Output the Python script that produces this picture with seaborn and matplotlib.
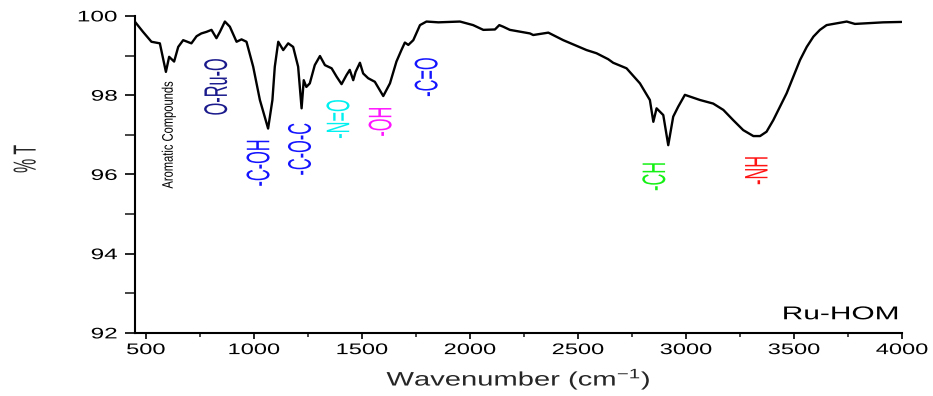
import numpy as np
import pandas as pd
import matplotlib
matplotlib.use("Agg")
import matplotlib.pyplot as plt
from matplotlib import patheffects
from matplotlib.transforms import Affine2D
from matplotlib.ticker import MultipleLocator
import seaborn as sns

# FTIR spectrum of Ru-HOM (wavenumber in cm^-1, transmittance in %)
wavenumber = [449, 487, 526, 565, 593, 608, 631, 650, 673, 711, 735, 757, 781, 804,
              827, 843, 866, 889, 920, 943, 966, 997, 1028, 1066, 1086, 1097, 1113,
              1136, 1159, 1182, 1205, 1221, 1231, 1243, 1259, 1282, 1306, 1329, 1360,
              1383, 1406, 1429, 1444, 1460, 1471, 1491, 1506, 1529, 1560, 1599, 1630,
              1660, 1683, 1699, 1715, 1738, 1769, 1799, 1854, 1954, 2015, 2062, 2116,
              2136, 2154, 2185, 2278, 2293, 2363, 2432, 2540, 2586, 2640, 2663, 2725,
              2787, 2833, 2849, 2864, 2895, 2918, 2941, 2964, 2995, 3065, 3126, 3173,
              3219, 3265, 3312, 3343, 3373, 3404, 3466, 3497, 3528, 3559, 3590, 3620,
              3651, 3744, 3782, 3913, 3998]
transmittance = [99.86, 99.60, 99.35, 99.31, 98.59, 98.97, 98.85, 99.22, 99.39, 99.31,
                 99.49, 99.56, 99.60, 99.65, 99.44, 99.60, 99.86, 99.73, 99.35, 99.41,
                 99.35, 98.72, 97.88, 97.16, 97.88, 98.72, 99.35, 99.14, 99.31, 99.22,
                 98.72, 97.67, 98.38, 98.21, 98.30, 98.76, 98.99, 98.76, 98.68, 98.47,
                 98.28, 98.51, 98.64, 98.38, 98.59, 98.82, 98.55, 98.43, 98.34, 97.98,
                 98.30, 98.85, 99.14, 99.33, 99.27, 99.39, 99.77, 99.86, 99.84, 99.86,
                 99.77, 99.65, 99.66, 99.77, 99.73, 99.65, 99.56, 99.52, 99.58, 99.39,
                 99.14, 99.06, 98.91, 98.82, 98.68, 98.30, 97.88, 97.33, 97.67, 97.50,
                 96.74, 97.46, 97.71, 98.01, 97.88, 97.79, 97.63, 97.37, 97.12, 96.97,
                 96.97, 97.08, 97.37, 98.05, 98.47, 98.89, 99.22, 99.48, 99.65, 99.77,
                 99.86, 99.80, 99.84, 99.85]

# band assignments
band_labels = ["Aromatic Compounds", "O-Ru-O", "-C-OH", "-C-O-C", "-N=O", "-OH",
               "-C=O", "-CH", "-NH"]
band_colors = ["black", "#1a1a8c", "#1414ff", "#1414ff", "#00f0f0", "#ff14ff",
               "#1414ff", "#14f014", "#ff1414"]

sample_name = "Ru-HOM"
x_ticks = [500, 1000, 1500, 2000, 2500, 3000, 3500, 4000]
y_ticks = [92, 94, 96, 98, 100]


class Squash(patheffects.AbstractPathEffect):
    """Compress glyph outlines vertically about their own centre."""

    def __init__(self, sy):
        super().__init__()
        self.sy = sy

    def draw_path(self, renderer, gc, tpath, affine, rgbFace=None):
        bb = tpath.get_extents(affine)
        cx = bb.x0 + bb.width / 2
        cy = bb.y0 + bb.height / 2
        squash = Affine2D().translate(-cx, -cy).scale(1.0, self.sy).translate(cx, cy)
        renderer.draw_path(gc, tpath, affine + squash, rgbFace)


sns.set_style("ticks")
plt.rcParams["font.family"] = ["Liberation Sans", "DejaVu Sans"]
plt.rcParams["mathtext.fontset"] = "custom"
plt.rcParams["mathtext.rm"] = "Liberation Sans"
plt.rcParams["mathtext.it"] = "Liberation Sans:italic"

df = pd.DataFrame({"Wavenumber": wavenumber, "T": transmittance})

fig = plt.figure(figsize=(9.33, 3.96), dpi=100)
ax = fig.add_axes([0.1447, 0.1591, 0.8221, 0.8005])

sns.lineplot(data=df, x="Wavenumber", y="T", color="black", linewidth=1.7, ax=ax)

ax.set_xlim(450, 4000)
ax.set_ylim(92, 100)
ax.set_xticks(x_ticks)
ax.set_yticks(y_ticks)
ax.xaxis.set_minor_locator(MultipleLocator(250))
ax.yaxis.set_minor_locator(MultipleLocator(1))

for side in ("top", "right"):
    ax.spines[side].set_visible(False)
for side in ("left", "bottom"):
    ax.spines[side].set_linewidth(1.5)
    ax.spines[side].set_color("black")

ax.tick_params(axis="x", which="major", length=4, width=1.2, pad=1, labelsize=17,
               colors="black")
ax.tick_params(axis="x", which="minor", length=3, width=1.2)
ax.tick_params(axis="y", which="major", length=7, width=1.2, pad=5.5, labelsize=17.5,
               colors="black")
ax.tick_params(axis="y", which="minor", length=7, width=1.2)

for lbl in ax.get_xticklabels():
    lbl.set_path_effects([Squash(0.65)])
for lbl in ax.get_yticklabels():
    lbl.set_path_effects([Squash(0.63)])

ax.set_xlabel("Wavenumber (cm$^{-1}$)", fontsize=21, va="center",
              path_effects=[Squash(0.67)])
ax.xaxis.set_label_coords(0.5, -0.146)
ax.set_ylabel("% T", fontsize=23, va="center", ha="center",
              path_effects=[Squash(0.5)])
ax.yaxis.set_label_coords(-0.14, 0.549)

# band label placement (wavenumber, %T) and size
label_pos = [(606, 96.99), (836, 98.21), (1032, 96.30), (1224, 96.64), (1402, 97.40),
             (1597, 97.34), (1810, 98.46), (2864, 95.96), (3338, 96.11)]
for text, color, (xp, yp) in zip(band_labels, band_colors, label_pos):
    small = text.startswith("Aromatic")
    ax.text(xp, yp, text, color=color, rotation=90, ha="center", va="center",
            fontsize=11 if small else 23.5,
            path_effects=[Squash(0.73 if small else 0.5)])

ax.text(3990, 92.45, sample_name, ha="right", va="center", fontsize=21.5,
        color="black", path_effects=[Squash(0.62)])

fig.savefig("out.png", dpi=100)
